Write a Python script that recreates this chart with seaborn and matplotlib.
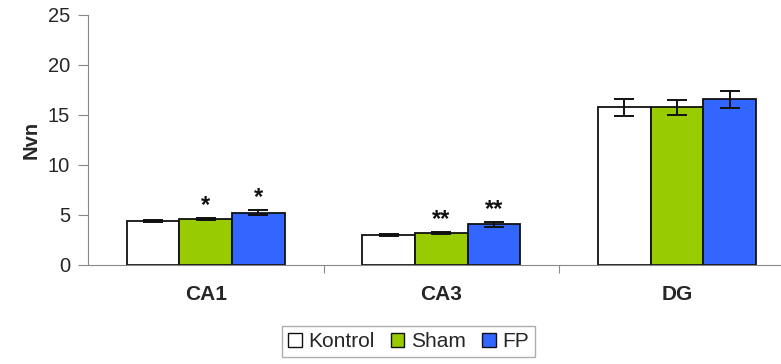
#------Import Modules--------------
import pandas as pd
import matplotlib
matplotlib.use("Agg")
import matplotlib.pyplot as plt
import seaborn as sns
from matplotlib.patches import Patch

#-----------Data ---------
regions = ["CA1", "CA3", "DG"]
groups = ["Kontrol", "Sham", "FP"]
kontrol = [4.4, 3.03, 15.77]
sham = [4.57, 3.2, 15.77]
fp = [5.23, 4.07, 16.57]
kontrol_err = [0.1, 0.1, 0.83]
sham_err = [0.1, 0.1, 0.77]
fp_err = [0.25, 0.25, 0.83]
stars_sham = ["*", "**", ""]
stars_fp = ["*", "**", ""]

colors = ["#FFFFFF", "#99CC00", "#3366FF"]

df = pd.DataFrame({
    "Region": regions * 3,
    "Group": [g for g in groups for _ in regions],
    "Nvn": kontrol + sham + fp,
    "err": kontrol_err + sham_err + fp_err,
    "star": [""] * 3 + stars_sham + stars_fp,
})

sns.set_style("white")
plt.rcParams["font.family"] = ["Liberation Sans", "DejaVu Sans"]

fig = plt.figure(figsize=(7.81, 3.64), dpi=100)
ax = fig.add_axes([88 / 781, 99 / 364, 1 - 88 / 781 + 0.01, 250 / 364])

sns.barplot(data=df, x="Region", y="Nvn", hue="Group", order=regions, hue_order=groups,
            palette=colors, saturation=1, width=0.67, errorbar=None,
            edgecolor="#111111", linewidth=1.3, legend=False, ax=ax)

#------error bars and stars on top of each bar-------
for patch, (_, row) in zip(ax.patches, df.iterrows()):
    xc = patch.get_x() + patch.get_width() / 2
    top = patch.get_height()
    ax.errorbar(xc, top, yerr=row["err"], fmt="none", ecolor="#111111",
                elinewidth=1.4, capsize=7, capthick=1.4)
    if row["star"]:
        ax.text(xc, top + row["err"] + 0.1, row["star"], ha="center", va="bottom",
                fontsize=17, fontweight="bold", color="#111111")

ax.set_ylim(0, 25)
ax.set_xlim(-0.5, 2.475)
ax.set_yticks([0, 5, 10, 15, 20, 25])
ax.set_xticks([0.5, 1.5])
ax.set_xticklabels([])
ax.tick_params(axis="x", direction="out", length=6, color="#888888", bottom=True)
ax.tick_params(axis="y", direction="out", length=7, color="#888888", left=True,
               labelsize=14.5, pad=6)
for i, r in enumerate(regions):
    ax.text(i, -2.0, r, ha="center", va="top", fontsize=15, fontweight="bold")

ax.set_xlabel("")
ax.set_ylabel("Nvn", fontsize=14.5, fontweight="bold", labelpad=5)

sns.despine(ax=ax, top=True, right=True)
ax.spines["left"].set_color("#888888")
ax.spines["bottom"].set_color("#888888")

#------legend at the bottom------
handles = [Patch(facecolor=c, edgecolor="#111111", linewidth=1) for c in colors]
leg = fig.legend(handles, groups, loc="lower center", bbox_to_anchor=(0.523, -0.01),
                 ncol=3, fontsize=15, frameon=True, fancybox=False,
                 handlelength=0.65, handleheight=0.65, handletextpad=0.3,
                 columnspacing=0.8, borderpad=0.3)
leg.get_frame().set_edgecolor("#999999")
leg.get_frame().set_linewidth(1)

fig.savefig("out.png", dpi=100)
